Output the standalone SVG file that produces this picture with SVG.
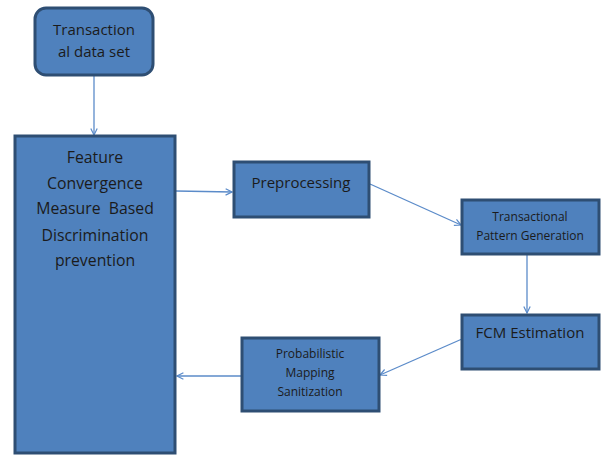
<svg xmlns="http://www.w3.org/2000/svg" width="606" height="457" viewBox="0 0 606 457">
<style>
.n{fill:#4F81BD;stroke:#2E4E73;stroke-width:3}
.t{font-family:"Open Sans","Liberation Sans",sans-serif;fill:#1b1b1b;text-anchor:middle}
.b{font-size:15px}
.m{font-size:15.8px}
.s{font-size:12px}
.c{fill:none;stroke:#5B8BC9;stroke-width:1.3}
</style>
<defs>
<marker id="a" viewBox="0 0 10 10" refX="9" refY="5" markerWidth="8" markerHeight="8" orient="auto" markerUnits="userSpaceOnUse">
<path d="M1,1 L9,5 L1,9" fill="none" stroke="#5B8BC9" stroke-width="1.5"/>
</marker>
</defs>
<g id="connectors">
<line class="c" x1="94" y1="75" x2="94" y2="135" marker-end="url(#a)"/>
<line class="c" x1="176" y1="191" x2="232" y2="192" marker-end="url(#a)"/>
<line class="c" x1="370" y1="184" x2="461" y2="225" marker-end="url(#a)"/>
<line class="c" x1="527" y1="254" x2="527" y2="313" marker-end="url(#a)"/>
<line class="c" x1="462" y1="339" x2="380" y2="375" marker-end="url(#a)"/>
<line class="c" x1="242" y1="376" x2="177" y2="376" marker-end="url(#a)"/>
</g>
<g id="n1">
<rect class="n" x="35" y="8" width="118" height="67" rx="11"/>
<text class="t b" x="94" y="35">Transaction</text>
<text class="t b" x="94" y="57">al data set</text>
</g>
<g id="n2">
<rect class="n" x="15" y="136" width="160" height="317"/>
<text class="t m" x="95" y="163">Feature</text>
<text class="t m" x="95" y="189">Convergence</text>
<text class="t m" x="95" y="214" xml:space="preserve">Measure  Based</text>
<text class="t m" x="95" y="241">Discrimination</text>
<text class="t m" x="95" y="266">prevention</text>
</g>
<g id="n3">
<rect class="n" x="234" y="162" width="135" height="55"/>
<text class="t b" x="301" y="188">Preprocessing</text>
</g>
<g id="n4">
<rect class="n" x="462" y="200" width="137" height="54"/>
<text class="t s" x="530" y="221">Transactional</text>
<text class="t s" x="530" y="240">Pattern Generation</text>
</g>
<g id="n5">
<rect class="n" x="462" y="315" width="137" height="54"/>
<text class="t b" x="530" y="338">FCM Estimation</text>
</g>
<g id="n6">
<rect class="n" x="242" y="338" width="137" height="73"/>
<text class="t s" x="310" y="358">Probabilistic</text>
<text class="t s" x="310" y="377">Mapping</text>
<text class="t s" x="310" y="396">Sanitization</text>
</g>
</svg>
